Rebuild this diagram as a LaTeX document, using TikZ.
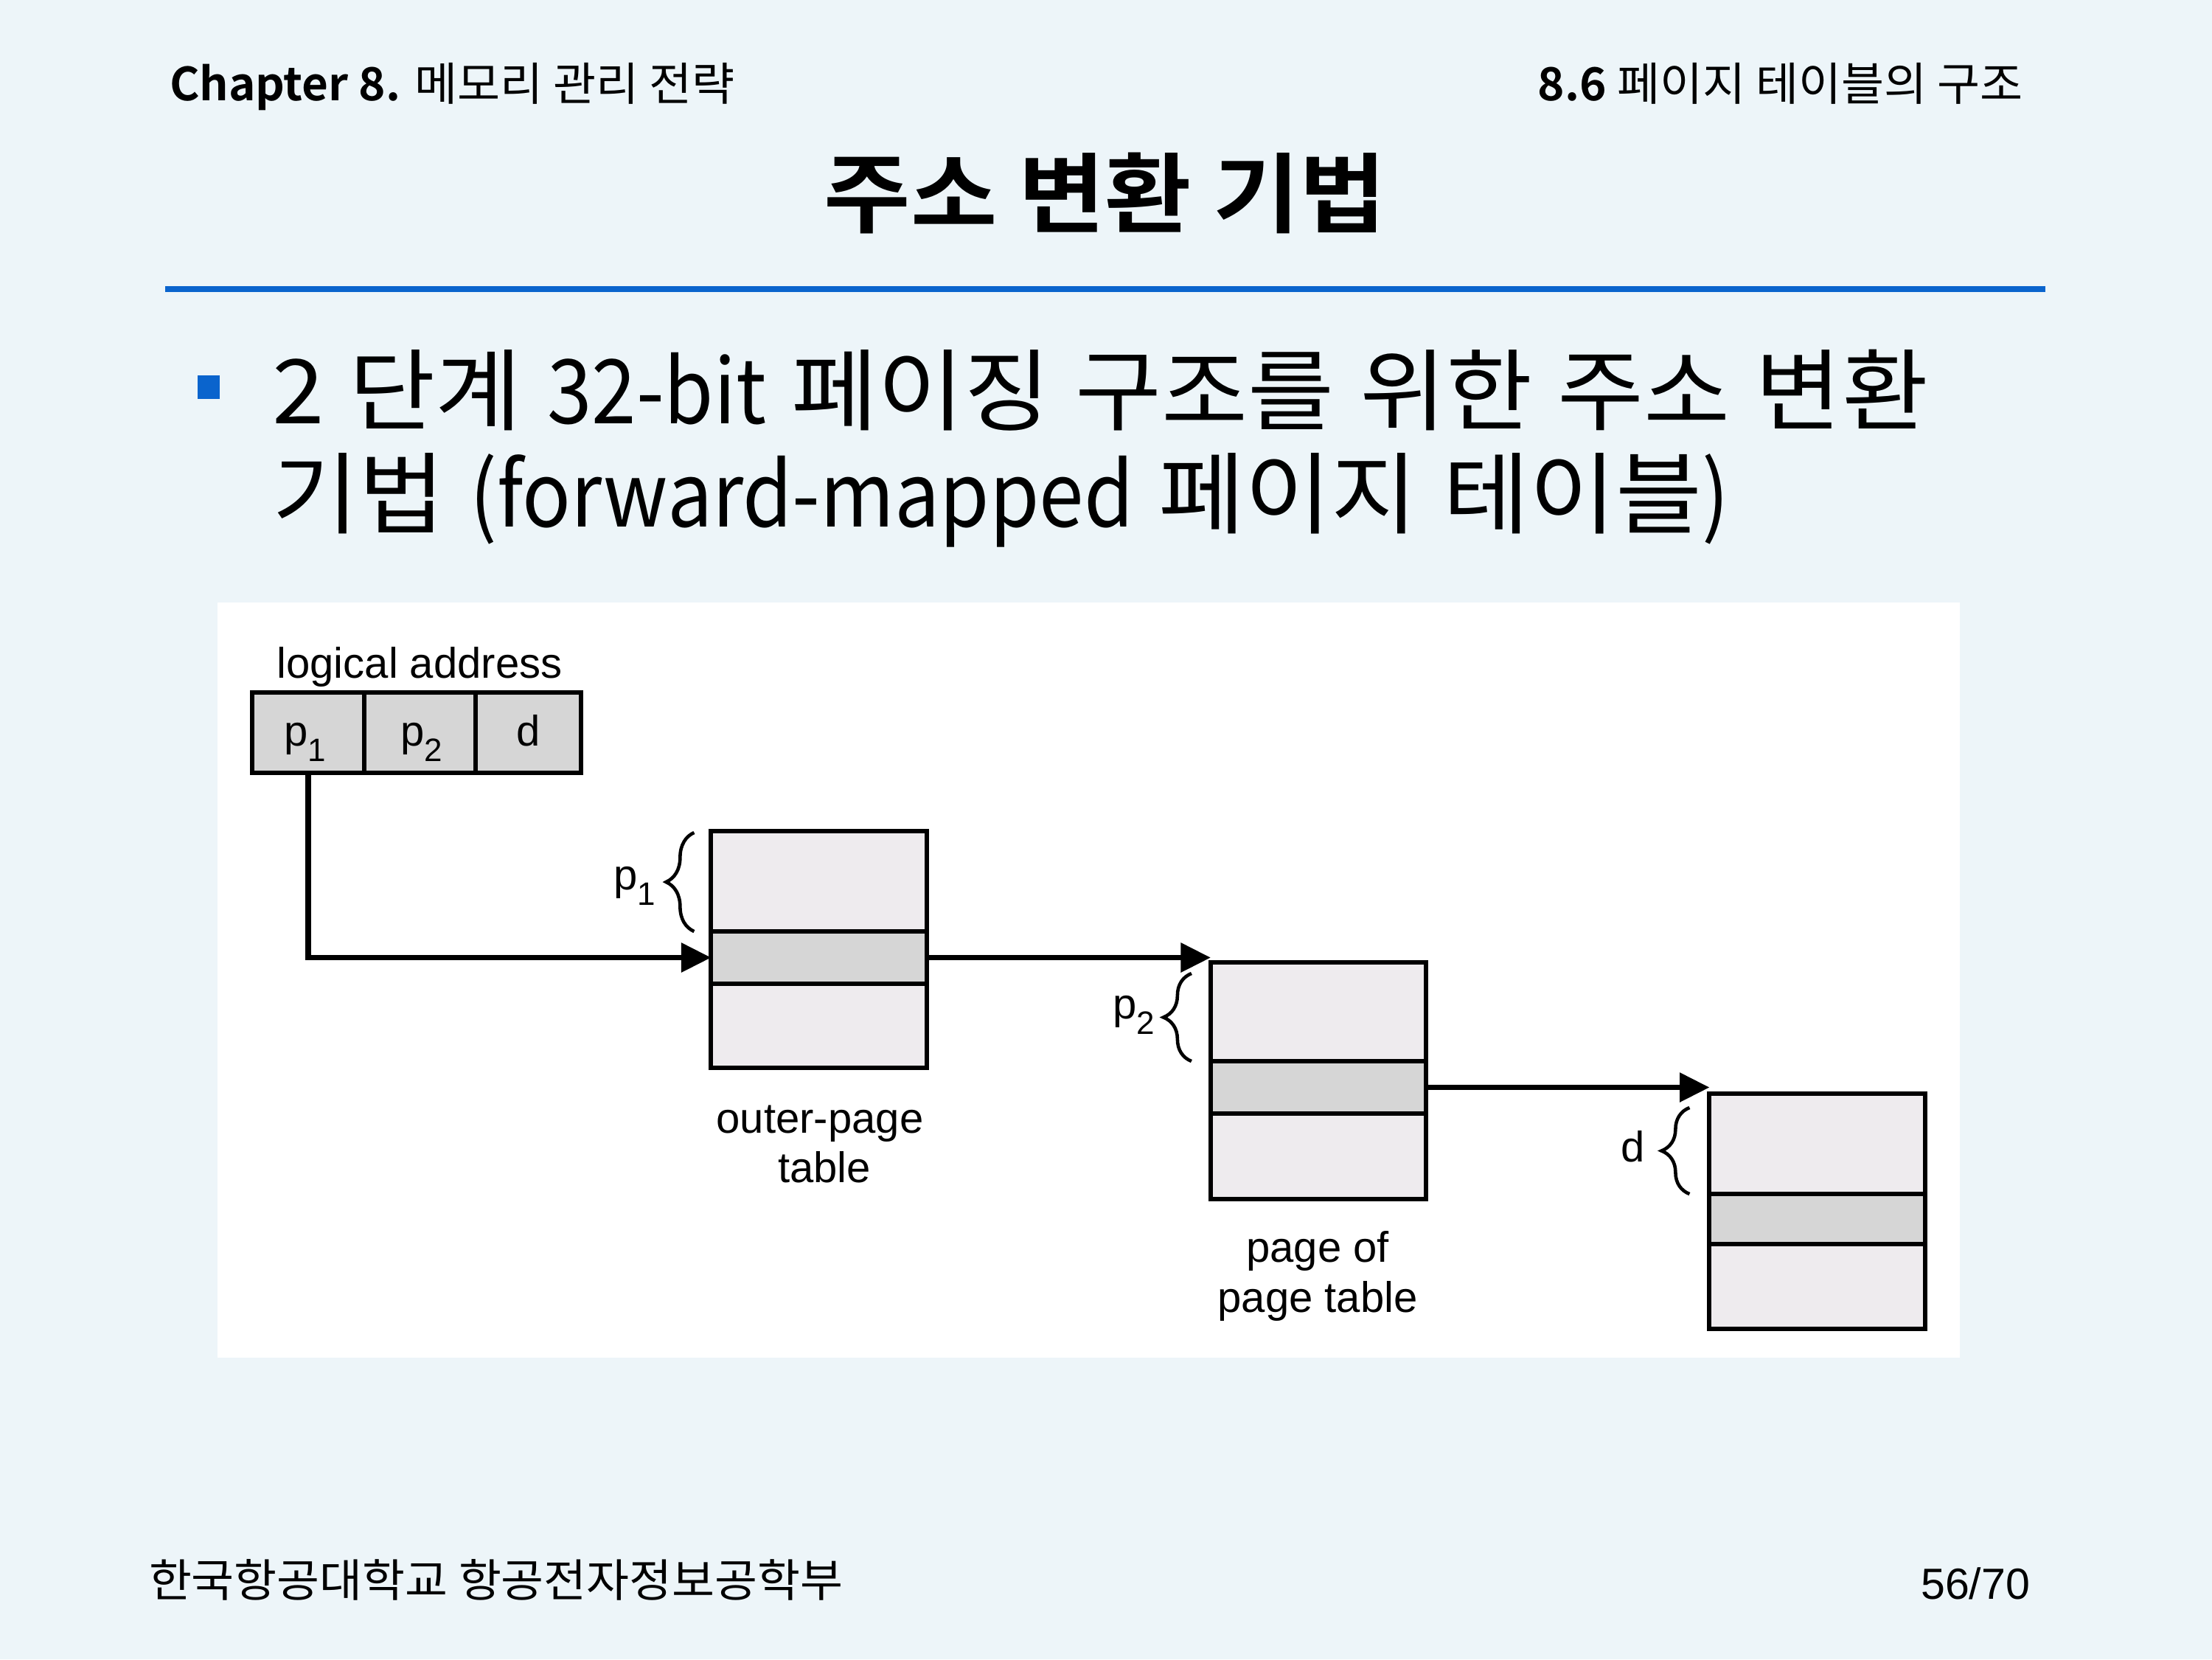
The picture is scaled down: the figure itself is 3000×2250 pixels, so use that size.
\documentclass[tikz,border=0pt]{standalone}
\usepackage{fontspec}
\setmainfont{Noto Sans CJK KR}[BoldFont={Noto Sans CJK KR Bold}]
\newfontfamily\arialf{Liberation Sans}
\newfontfamily\hgfont{Noto Sans CJK KR}[FakeStretch=1.052,WordSpace=1.2]
\newfontfamily\ltfont{Noto Sans CJK KR}[FakeStretch=0.9]
\newfontfamily\titlefont{Noto Sans CJK KR Bold}[FakeStretch=1.08]
\newfontfamily\footfont{Noto Sans CJK KR}[FakeStretch=1.03]
\newfontfamily\hdrfont{Noto Sans CJK KR}[FakeStretch=1.02,BoldFont={Noto Sans CJK KR Bold},BoldFeatures={FakeStretch=1.0}]
\usetikzlibrary{arrows.meta,decorations.pathreplacing,calc}
\definecolor{bgc}{RGB}{237,245,249}
\definecolor{ruleblue}{RGB}{10,100,205}
\definecolor{celllight}{RGB}{238,235,238}
\definecolor{cellgray}{RGB}{214,214,214}
\newcommand{\subs}[1]{\raisebox{-6pt}{\fontsize{12.5}{13}\selectfont #1}}
\begin{document}
\begin{tikzpicture}[x=0.01cm,y=-0.01cm,
  txt/.style={inner sep=0pt,outer sep=0pt},
  cellbox/.style={draw=black,line width=1.7pt,minimum width=2.92cm,inner sep=0pt,outer sep=0pt},
  lightcell/.style={cellbox,fill=celllight},
  graycell/.style={cellbox,fill=cellgray},
  addrcell/.style={draw=black,line width=1.5pt,fill=cellgray,minimum height=1.09cm,inner sep=0pt,outer sep=0pt},
  conn/.style={line width=2pt,-{Triangle[length=11.5pt,width=11pt]}},
  brc/.style={decorate,decoration={brace,amplitude=0.38cm,aspect=0.5},line width=1.3pt},
  dfont/.style={font=\arialf\fontsize{16.5}{19}\selectfont},
]
\fill[bgc] (0,0) rectangle (3000,2250);
\useasboundingbox (0,0) rectangle (3000,2250);

% header
\node[txt,anchor=base west] (hl) at (230,136) {\hdrfont\fontsize{17.6}{20}\selectfont\textbf{Chapter 8.} 메모리 관리 전략};
\node[txt,anchor=base east] (hr) at (2744,136) {\hdrfont\fontsize{17.6}{20}\selectfont\textbf{8.6} 페이지 테이블의 구조};
\node[txt,anchor=base] (title) at (1499,306) {\titlefont\fontsize{33.6}{40}\selectfont 주소 변환 기법};
\draw[ruleblue,line width=2.3pt] (224,392) -- (2774,392);

% bullet
\fill[ruleblue] (268,509) rectangle (298,541);
\node[txt,anchor=base west] (b1) at (369,574) {\fontsize{34.4}{40}\selectfont{\hgfont 2 단계 }{\ltfont 32-bit}{\hgfont{} 페이징 구조를 위한 주소 변환}};
\node[txt,anchor=base west] (b2) at (369,714) {\fontsize{34.4}{40}\selectfont{\hgfont 기법 }{\ltfont (forward-mapped}{\hgfont{} 페이지 테이블}{\ltfont )}};

% diagram panel
\fill[white] (295,817) rectangle (2658,1841);

% logical address
\node[txt,dfont,anchor=base] (la) at (569,919) {logical address};
\node[addrcell,minimum width=1.52cm] (a1) at (418,993.5) {};
\node[addrcell,minimum width=1.51cm] (a2) at (569.5,993.5) {};
\node[addrcell,minimum width=1.43cm] (a3) at (716.5,993.5) {};
\node[txt,dfont,anchor=base] (l1) at (414,1011) {p\subs{1}};
\node[txt,dfont,anchor=base] (l2) at (572,1011) {p\subs{2}};
\node[txt,dfont,anchor=base] (l3) at (717,1011) {d};

% outer-page table
\node[lightcell,minimum height=1.36cm] (ot) at (1110.5,1195) {};
\node[lightcell,minimum height=1.14cm] (ob) at (1110.5,1391) {};
\node[graycell,minimum height=0.71cm] (og) at (1110.5,1298.5) {};
\node[txt,dfont,anchor=base] (olab1) at (1112,1536) {outer-page};
\node[txt,dfont,anchor=base] (olab2) at (1118,1603) {table};

% page of page table
\node[lightcell,minimum height=1.34cm] (bt) at (1788,1372) {};
\node[lightcell,minimum height=1.16cm] (bb) at (1788,1568) {};
\node[graycell,minimum height=0.71cm] (bg) at (1788,1474.5) {};
\node[txt,dfont,anchor=base] (blab1) at (1787,1711) {page of};
\node[txt,dfont,anchor=base] (blab2) at (1787,1779) {page table};

% page
\node[lightcell,minimum height=1.36cm] (ct) at (2464.5,1551) {};
\node[lightcell,minimum height=1.15cm] (cb) at (2464.5,1744.5) {};
\node[graycell,minimum height=0.68cm] (cg) at (2464.5,1653) {};

% braces and labels
\draw[brc] ([xshift=-0.23cm]ot.south west) -- ([xshift=-0.23cm,yshift=-0.02cm]ot.north west);
\node[txt,dfont,anchor=base] (s1) at (861,1206) {p\subs{1}};
\draw[brc] ([xshift=-0.26cm]bt.south west) -- ([xshift=-0.26cm,yshift=-0.15cm]bt.north west);
\node[txt,dfont,anchor=base] (s2) at (1538,1381) {p\subs{2}};
\draw[brc] ([xshift=-0.27cm]ct.south west) -- ([xshift=-0.27cm,yshift=-0.19cm]ct.north west);
\node[txt,dfont,anchor=base] (s3) at (2215,1575) {d};

% connectors
\draw[conn] (a1.south) |- (og.west);
\draw[conn] (og.east) -- (og.east -| bt.north west);
\draw[conn] (bg.east) -- (bg.east -| ct.north west);

% footer
\node[txt,anchor=base west] (fl) at (202,2165) {\footfont\fontsize{17.4}{20}\selectfont 한국항공대학교 항공전자정보공학부};
\node[txt,anchor=base east] (fr) at (2753,2168) {\arialf\fontsize{16.8}{20}\selectfont 56/70};
\end{tikzpicture}
\end{document}
